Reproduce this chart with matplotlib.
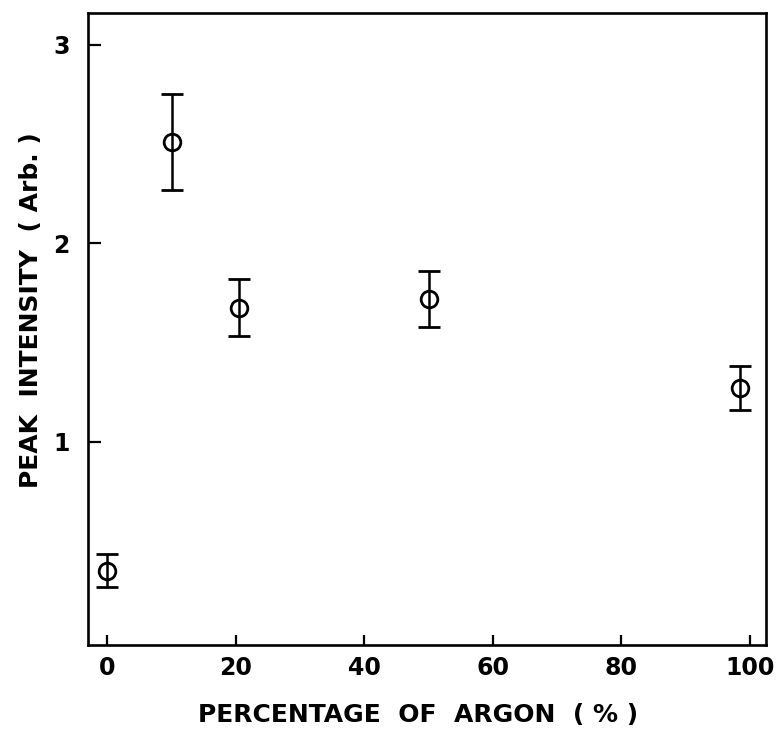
import matplotlib
matplotlib.use("Agg")
import matplotlib.pyplot as plt

# values
argon_pct = [0, 10, 20.5, 50, 98.5]
peak_intensity = [0.35, 2.51, 1.675, 1.72, 1.27]
intensity_err = [0.085, 0.24, 0.145, 0.14, 0.11]

x_ticks = [0, 20, 40, 60, 80, 100]
y_ticks = [1, 2, 3]

plt.rcParams['font.family'] = 'DejaVu Sans'
plt.rcParams['font.weight'] = 'bold'

fig = plt.figure(figsize=(7.81, 7.34), dpi=100)
ax = fig.add_axes([88 / 781, 1 - 645 / 734, 678 / 781, 632 / 734])

ax.errorbar(argon_pct, peak_intensity, yerr=intensity_err,
            fmt='o', color='black', mfc='none', mec='black',
            markersize=12, markeredgewidth=2.0,
            elinewidth=1.8, capsize=8, capthick=2.2)

ax.set_xlim(-3, 102.5)
ax.set_ylim(-0.025, 3.16)
ax.set_xticks(x_ticks)
ax.set_yticks(y_ticks)

for side in ['top', 'right', 'bottom', 'left']:
    ax.spines[side].set_linewidth(1.9)

ax.tick_params(axis='both', direction='in', width=1.6, labelsize=17)
ax.tick_params(axis='x', length=7, pad=8)
ax.tick_params(axis='y', length=9, pad=13)

ax.set_xlabel('PERCENTAGE  OF  ARGON  ( % )', fontsize=18, fontweight='bold')
ax.set_ylabel('PEAK  INTENSITY  ( Arb. )', fontsize=18, fontweight='bold')
ax.xaxis.set_label_coords(0.487, -0.092)
ax.yaxis.set_label_coords(-0.066, 0.53)

fig.savefig('out.png', dpi=100)
